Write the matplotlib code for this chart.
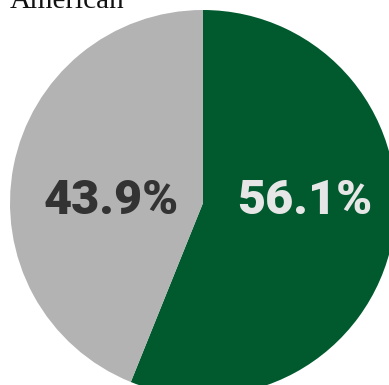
import matplotlib.pyplot as plt

labels = ["Other", "American"]
shares = [43.9, 56.1]
colors = ["#b3b3b3", "#005a2e"]
text_colors = ["#333333", "#e6e6e6"]

W, H = 389, 385
fig = plt.figure(figsize=(W / 100, H / 100), dpi=100)
ax = fig.add_axes([0, 0, 1, 1])

cx, cy, r = 203, H - 203, 193
# green slice starts at top and runs clockwise
ax.pie(shares[::-1], colors=colors[::-1], startangle=90, counterclock=False,
       center=(cx, cy), radius=r, frame=True, wedgeprops=dict(linewidth=0))
ax.set_xlim(0, W)
ax.set_ylim(0, H)
ax.set_aspect("equal")
ax.axis("off")

label_x = [cx - 92, cx + 102]
for x, v, c in zip(label_x, shares, text_colors):
    ax.text(x, cy + 2, f"{v}%", ha="center", va="center", color=c,
            fontsize=35, fontweight=900, family="Roboto")

fig.text(10 / W, 1 - 8 / H, "American", ha="left", va="baseline",
         fontsize=21, family="Liberation Serif", color="#111111")

fig.savefig("out.png", dpi=100)
